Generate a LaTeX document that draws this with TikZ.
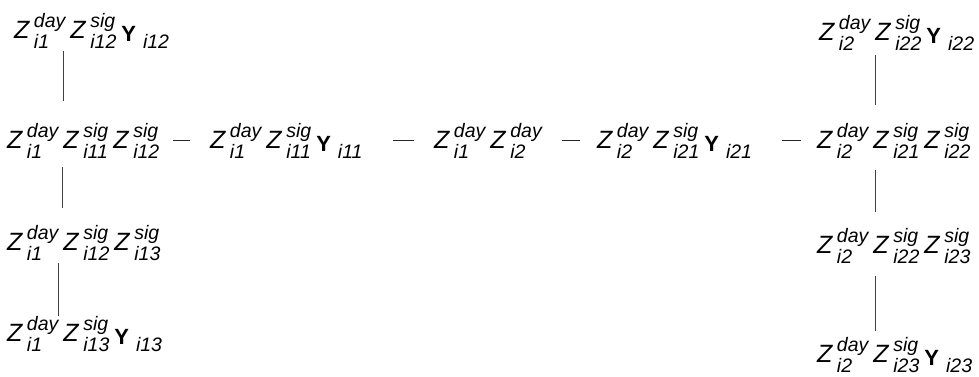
\documentclass[tikz,border=0pt]{standalone}
\usepackage{fontspec}
\setmainfont{Liberation Sans}
\newcommand\scrf{\fontsize{19.5}{22}\selectfont\itshape}
\newcommand\supsub[2]{\setbox0\hbox{\scrf #1}\setbox2\hbox{\scrf #2}%
  \ifdim\wd0>\wd2 \rlap{\lower10pt\box2}\raise11pt\box0
  \else\rlap{\raise11pt\box0}\lower10pt\box2\fi}
\newcommand\zz[2]{\textit{Z}\kern4pt\supsub{#1}{#2}}
\newcommand\yy[1]{\lower3pt\hbox{\fontsize{22}{24}\selectfont\bfseries Y}\kern7pt\lower10pt\hbox{\scrf #1}}
\newcommand\sep{\kern5pt}
\begin{document}
\begin{tikzpicture}[x=1pt,y=-1pt,
  term/.style={anchor=base west,inner sep=0pt,outer sep=0pt,font=\fontsize{25}{28}\selectfont},
  wide/.style={text width=#1,align=left},
  conn/.style={draw=black!75,line width=0.9pt},
  hconn/.style={draw=black!85,line width=1pt}]
\useasboundingbox (0,0) rectangle (979,376);
% left column
\node[term] (t1) at (14,38) {\zz{day}{i1}\sep\zz{sig}{i12}\sep\yy{i12}};
\node[term,wide=160pt] (a)  at (7,148) {\zz{day}{i1}\sep\zz{sig}{i11}\sep\zz{sig}{i12}};
\node[term] (l3) at (7,250) {\zz{day}{i1}\sep\zz{sig}{i12}\sep\zz{sig}{i13}};
\node[term] (l4) at (7,341) {\zz{day}{i1}\sep\zz{sig}{i13}\sep\yy{i13}};
% middle row
\node[term,wide=175pt] (b) at (210,148) {\zz{day}{i1}\sep\zz{sig}{i11}\sep\yy{i11}};
\node[term,wide=115pt] (c) at (434,148) {\zz{day}{i1}\sep\zz{day}{i2}};
\node[term,wide=175pt] (d) at (597,148) {\zz{day}{i2}\sep\zz{sig}{i21}\sep\yy{i21}};
\node[term] (e) at (817,148) {\zz{day}{i2}\sep\zz{sig}{i21}\sep\zz{sig}{i22}};
% right column
\node[term] (r1) at (819,40) {\zz{day}{i2}\sep\zz{sig}{i22}\sep\yy{i22}};
\node[term] (r3) at (817,253) {\zz{day}{i2}\sep\zz{sig}{i22}\sep\zz{sig}{i23}};
\node[term] (r4) at (817,362) {\zz{day}{i2}\sep\zz{sig}{i23}\sep\yy{i23}};
% x positions of vertical connectors
\coordinate (x1) at (63,0);
\coordinate (x2) at (62,0);
\coordinate (x3) at (58,0);
\coordinate (x4) at (875,0);
% vertical connectors
\draw[conn,shorten <=3pt,shorten >=22pt] (t1.south -| x1) -- (a.north -| x1);
\draw[conn,shorten <=9pt,shorten >=17pt] (a.south -| x2) -- (l3.north -| x2);
\draw[conn,shorten <=3pt,shorten >=0pt] (l3.south -| x3) -- (l4.north -| x3);
\draw[conn,shorten <=5pt,shorten >=18pt] (r1.south -| x4) -- (e.north -| x4);
\draw[conn,shorten <=12pt,shorten >=16pt] (e.south -| x4) -- (r3.north -| x4);
\draw[conn,shorten <=13pt,shorten >=6pt] (r3.south -| x4) -- (r4.north -| x4);
% horizontal connectors
\draw[hconn,shorten <=6pt,shorten >=20pt] (a.east) -- (b.west);
\draw[hconn,shorten <=8pt,shorten >=20pt] (b.east) -- (c.west);
\draw[hconn,shorten <=13pt,shorten >=17pt] (c.east) -- (d.west);
\draw[hconn,shorten <=10pt,shorten >=16pt] (d.east) -- (e.west);
\end{tikzpicture}
\end{document}
